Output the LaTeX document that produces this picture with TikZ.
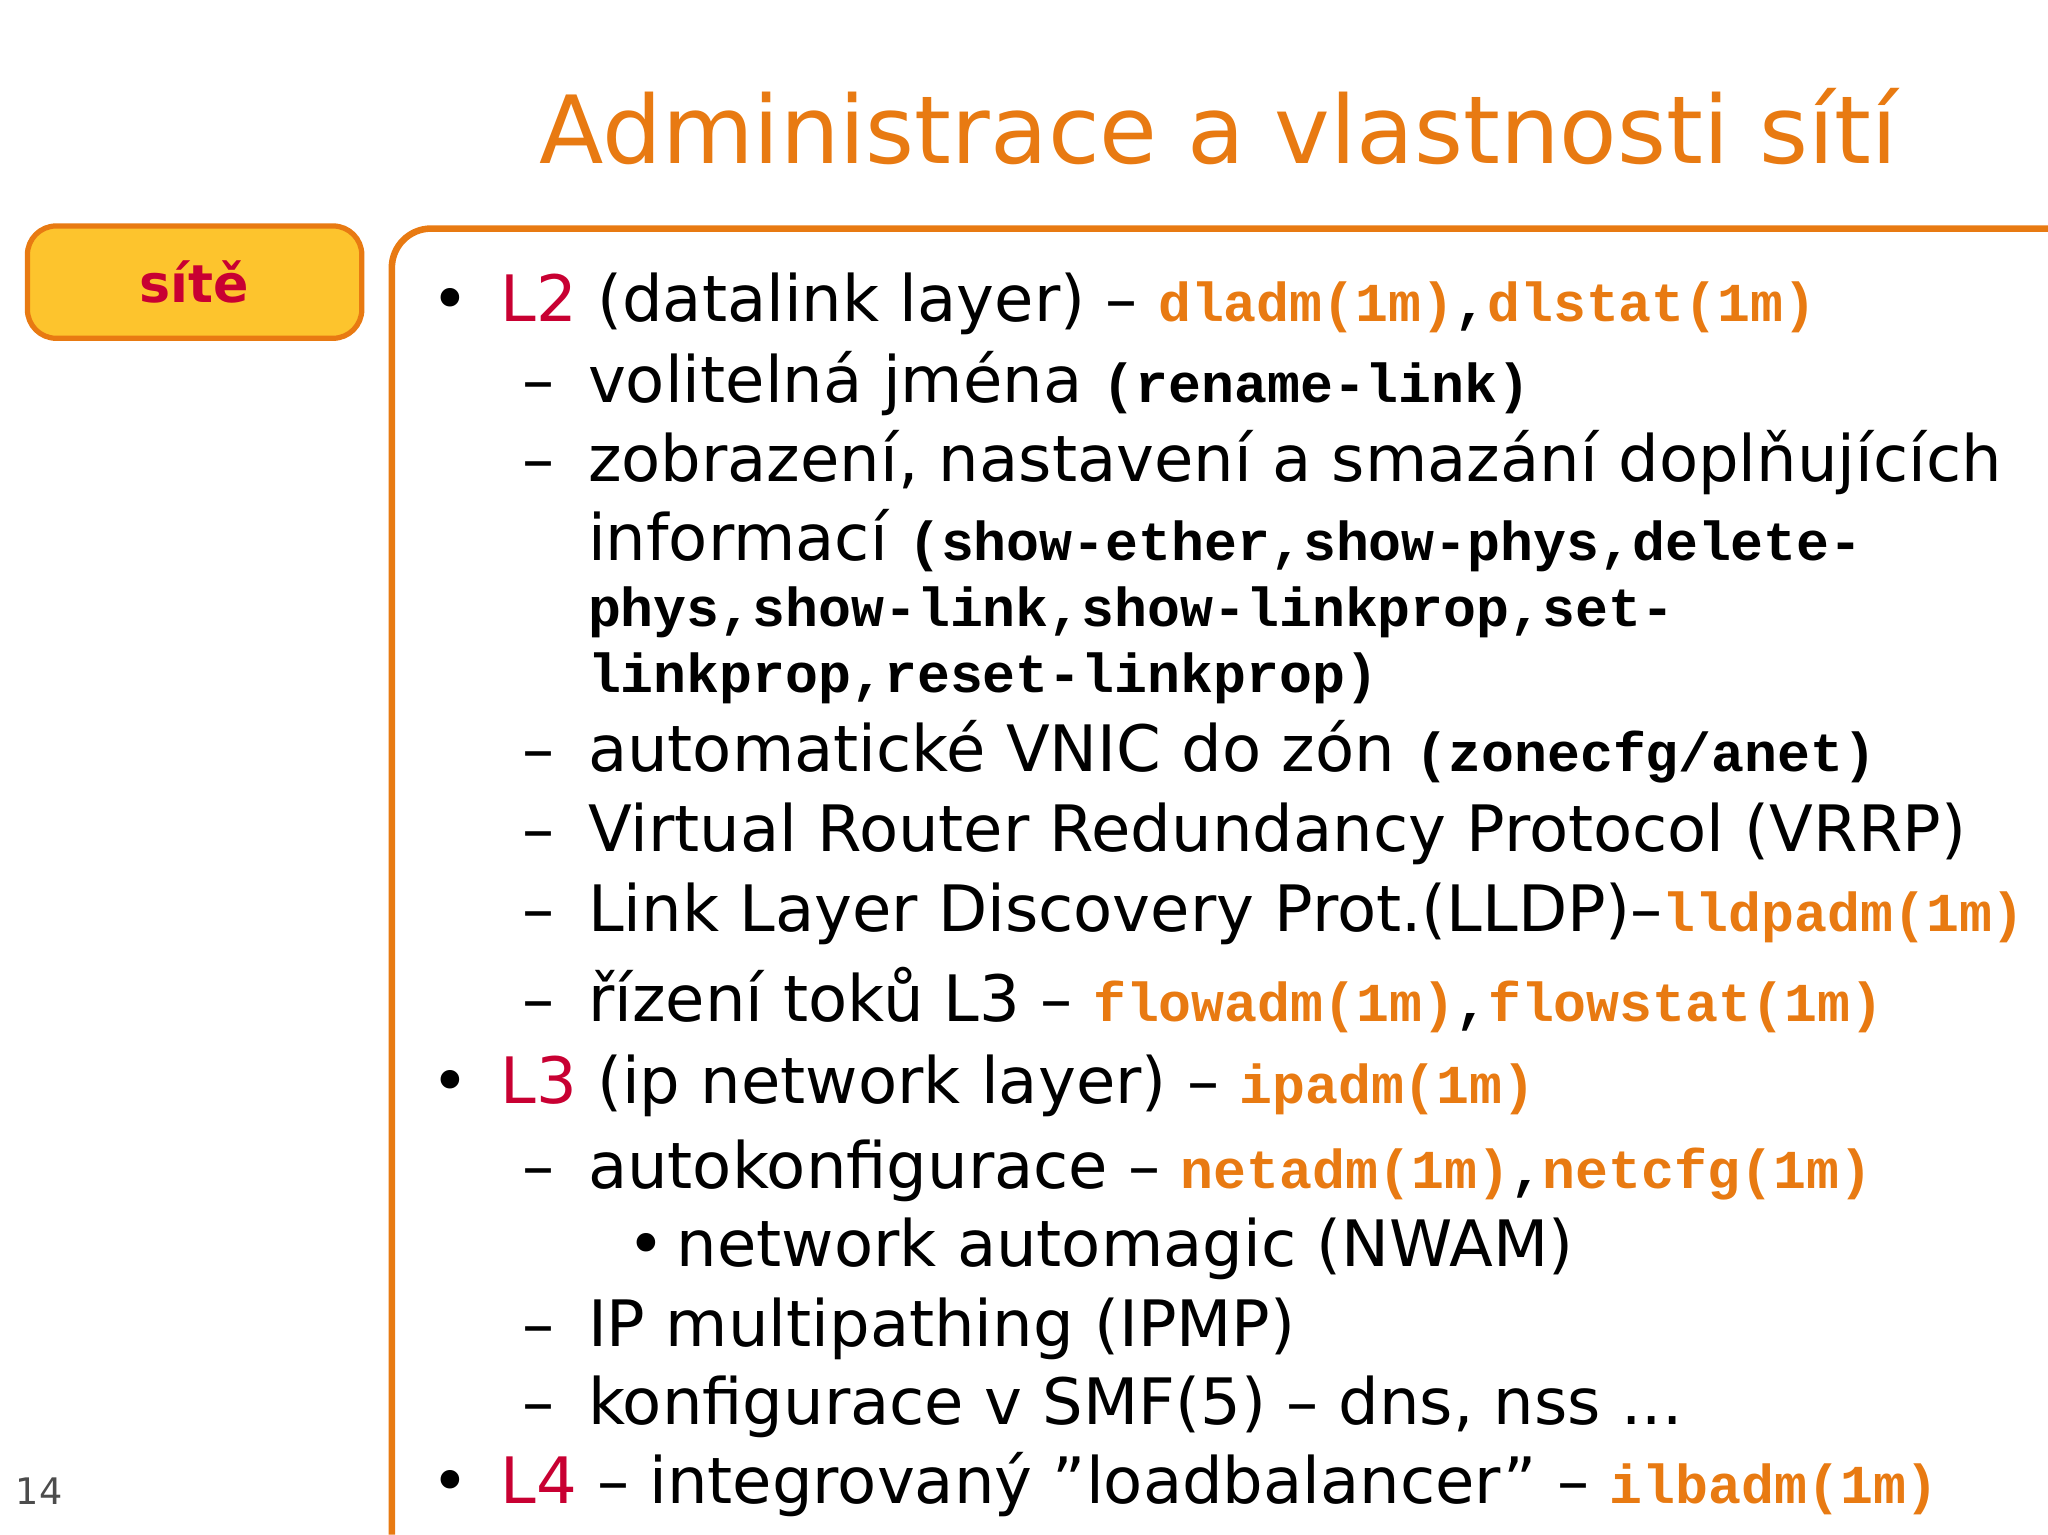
\documentclass[tikz,border=0pt]{standalone}
\usepackage{fontspec}
\setmainfont{DejaVu Sans}
\setmonofont{Liberation Mono}
\definecolor{org}{RGB}{232,122,18}
\definecolor{rd}{RGB}{200,0,50}
\definecolor{yel}{RGB}{253,196,45}
\newcommand{\cm}[1]{{\ttfamily\bfseries\fontsize{42}{42}\selectfont\color{org}#1}}
\newcommand{\cb}[1]{{\ttfamily\bfseries\fontsize{42}{42}\selectfont #1}}
\begin{document}
\begin{tikzpicture}[x=1pt,y=-1pt,
  tx/.style={anchor=base west,inner sep=0pt,font=\fontsize{49}{49}\selectfont}]
\useasboundingbox (0,0) rectangle (1568,1175);
\node[anchor=base,inner sep=0pt,text=org,font=\fontsize{72}{72}\selectfont] (title) at (933,125) {Administrace a vlastnosti sítí};
\draw[org,line width=5pt,rounded corners=30pt] (300,1175) -- (300,175) -- (1568,175);
\node[draw=org,line width=4pt,fill=yel,rounded corners=22pt,minimum width=256pt,minimum height=86pt,text=rd,font=\bfseries\fontsize{40}{40}\selectfont] (site) at (149,216) {sítě};
\node[anchor=base west,inner sep=0pt,text=black!70,font=\fontsize{28}{28}\selectfont] (pg) at (12,1152) {14};
\node[tx] (b1) at (330,246) {•};
\node[tx] (l1) at (383,246) {\textcolor{rd}{L2} (datalink layer) – \cm{dladm(1m)}\cb{,}\cm{dlstat(1m)}};
\node[tx] (d1) at (400,308) {–};
\node[tx] (l2) at (450,308) {volitelná jména \cb{(rename-link)}};
\node[tx] (d2) at (400,369) {–};
\node[tx] (l3) at (450,369) {zobrazení, nastavení a smazání doplňujících};
\node[tx] (l4) at (450,429) {informací \cb{(show-ether,show-phys,delete-}};
\node[tx] (l5) at (450,480) {\cb{phys,show-link,show-linkprop,set-}};
\node[tx] (l6) at (450,530) {\cb{linkprop,reset-linkprop)}};
\node[tx] (d3) at (400,591) {–};
\node[tx] (l7) at (450,591) {automatické VNIC do zón \cb{(zonecfg/anet)}};
\node[tx] (d4) at (400,652) {–};
\node[tx] (l8) at (450,652) {Virtual Router Redundancy Protocol (VRRP)};
\node[tx] (d5) at (400,713) {–};
\node[tx] (l9) at (450,713) {Link Layer Discovery Prot.(LLDP)–\cm{lldpadm(1m)}};
\node[tx] (d6) at (400,782) {–};
\node[tx] (l10) at (450,782) {řízení toků L3 – \cm{flowadm(1m)}\cb{,}\cm{flowstat(1m)}};
\node[tx] (b2) at (330,845) {•};
\node[tx] (l11) at (383,845) {\textcolor{rd}{L3} (ip network layer) – \cm{ipadm(1m)}};
\node[tx] (d7) at (400,910) {–};
\node[tx] (l12) at (450,910) {autokonfigurace – \cm{netadm(1m)}\cb{,}\cm{netcfg(1m)}};
\node[tx] (b3) at (480,970) {•};
\node[tx] (l13) at (518,970) {network automagic (NWAM)};
\node[tx] (d8) at (400,1031) {–};
\node[tx] (l14) at (450,1031) {IP multipathing (IPMP)};
\node[tx] (d9) at (400,1091) {–};
\node[tx] (l15) at (450,1091) {konfigurace v SMF(5) – dns, nss ...};
\node[tx] (b4) at (330,1151) {•};
\node[tx] (l16) at (383,1151) {\textcolor{rd}{L4} – integrovaný \symbol{34}loadbalancer\symbol{34} – \cm{ilbadm(1m)}};
\end{tikzpicture}
\end{document}
